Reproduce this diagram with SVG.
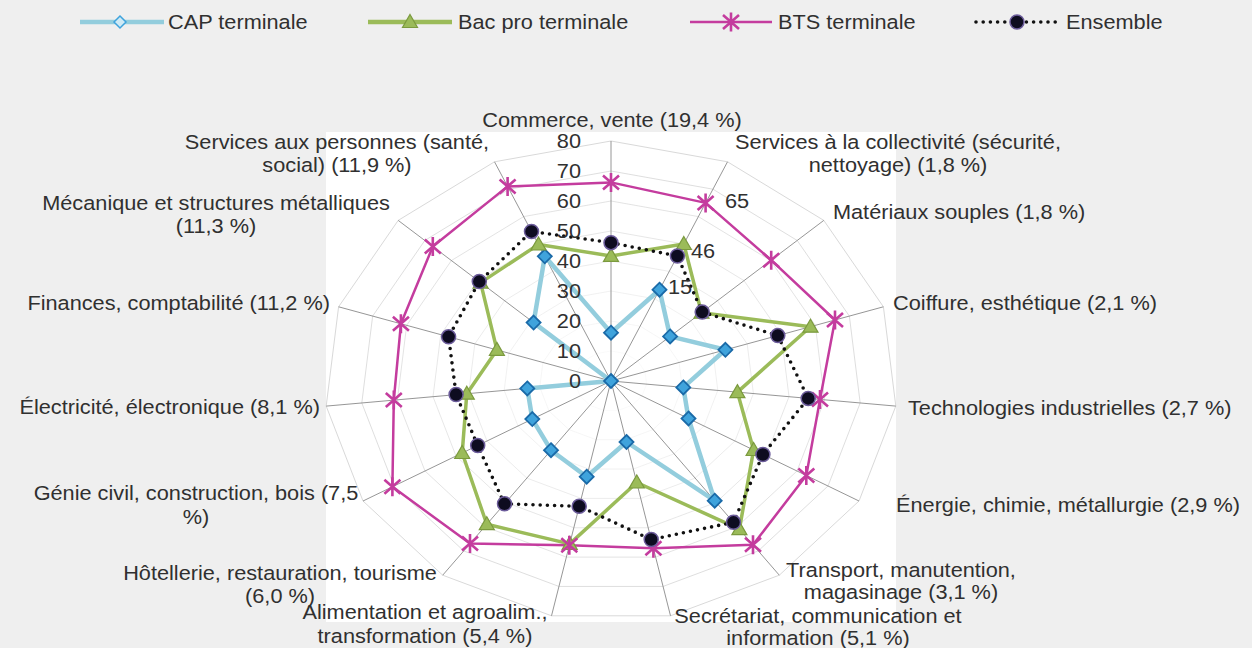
<svg xmlns="http://www.w3.org/2000/svg" xmlns:xlink="http://www.w3.org/1999/xlink" width="1252" height="648" viewBox="0 0 1252 648">
<style>
.t{font-family:"Liberation Sans",Arial,sans-serif;font-size:20.5px;fill:#303030}
.m{text-anchor:middle}.e{text-anchor:end}
.ring{fill:none;stroke:#d9d9d9;stroke-width:1;vector-effect:non-scaling-stroke}
.spoke{stroke:#8a8a8a;stroke-width:0.9}
.cap{fill:none;stroke:#93cddd;stroke-width:4.5;stroke-linejoin:round}
.bac{fill:none;stroke:#9bbb59;stroke-width:3.5;stroke-linejoin:round}
.bts{fill:none;stroke:#c43c9e;stroke-width:2.5;stroke-linejoin:round}
.ens{fill:none;stroke:#111;stroke-width:3.6;stroke-linecap:round;stroke-dasharray:0 7.2}
</style>
<defs>
<polygon id="ringShape" points="0,-240 116.5,-219.2 212.8,-160.6 272.4,-74.2 284.8,25.1 248,120 168.3,194.2 59.5,234.8 -59.5,234.8 -168.3,194.2 -248,120 -284.8,25.1 -272.4,-74.2 -212.8,-160.6 -116.5,-219.2"/>
<g id="mDia"><polygon points="0,-7 7,0 0,7 -7,0" fill="#3fa3dc" stroke="#1a6aa8" stroke-width="1.8"/></g>
<g id="mTri"><polygon points="0,-7.5 7.5,5.5 -7.5,5.5" fill="#9bbb59" stroke="#7b9a3e" stroke-width="1.2"/></g>
<g id="mAst"><path d="M-8,-7L8,7M-8,7L8,-7M0,-9.5V9.5" stroke="#c43c9e" stroke-width="2.6" fill="none"/></g>
<g id="mCir"><circle r="7" fill="#0e0c20" stroke="#6b5b9a" stroke-width="1.5"/></g>
</defs>
<rect x="0" y="0" width="1252" height="648" fill="#efefef"/>
<rect x="326" y="132" width="570" height="490" fill="#ffffff"/>

<g id="grid">
<g transform="translate(611 381)">
<use xlink:href="#ringShape" class="ring" transform="scale(0.125)"/>
<use xlink:href="#ringShape" class="ring" transform="scale(0.25)"/>
<use xlink:href="#ringShape" class="ring" transform="scale(0.375)"/>
<use xlink:href="#ringShape" class="ring" transform="scale(0.5)"/>
<use xlink:href="#ringShape" class="ring" transform="scale(0.625)"/>
<use xlink:href="#ringShape" class="ring" transform="scale(0.75)"/>
<use xlink:href="#ringShape" class="ring" transform="scale(0.875)"/>
<use xlink:href="#ringShape" class="ring"/>
</g>
<g class="spoke">
<line x1="611" y1="381" x2="611" y2="141"/>
<line x1="611" y1="381" x2="727.5" y2="161.8"/>
<line x1="611" y1="381" x2="823.8" y2="220.4"/>
<line x1="611" y1="381" x2="883.4" y2="306.8"/>
<line x1="611" y1="381" x2="895.8" y2="406.1"/>
<line x1="611" y1="381" x2="859" y2="501"/>
<line x1="611" y1="381" x2="779.3" y2="575.2"/>
<line x1="611" y1="381" x2="670.5" y2="615.8"/>
<line x1="611" y1="381" x2="551.5" y2="615.8"/>
<line x1="611" y1="381" x2="442.7" y2="575.2"/>
<line x1="611" y1="381" x2="363" y2="501"/>
<line x1="611" y1="381" x2="326.2" y2="406.1"/>
<line x1="611" y1="381" x2="338.6" y2="306.8"/>
<line x1="611" y1="381" x2="398.2" y2="220.4"/>
<line x1="611" y1="381" x2="494.5" y2="161.8"/>
</g>
</g>

<g id="connectors">
<polygon id="line-cap" class="cap" points="611,332.7 659.5,289.7 670.1,336.4 725.4,349.8 683.3,387.4 688.5,418.5 714.7,500.7 626.5,442 586.7,476.7 551,450.2 532.3,419.1 527.3,388.4 611,381 533.6,322.6 544.8,256.3"/>
<polygon id="line-bac" class="bac" points="611,255.9 683.8,244 701.5,312.7 810.5,326.7 737.4,392.1 753.6,450 739.4,529.1 636.8,482.5 569.7,543.9 486.8,524.2 462.2,453 466.8,393.7 496.9,349.9 480.6,282.6 538.5,244.5"/>
<polygon id="line-bts" class="bts" points="611,182.4 705.6,202.9 771.2,260.2 835,320 820,399.4 806.3,475.5 753,544.8 653.4,548.3 569.3,545.3 470,543.6 392.4,486.8 393.8,400.1 400.9,323.8 432.8,246.5 507.6,186.4"/>
<polygon id="line-ens" class="ens" points="611,242.7 677.4,256 702.2,312.1 777.8,335.6 808.2,398.4 762.9,454.5 733.5,522.3 651.2,539.5 579.2,506.3 504.5,503.8 477.7,445.5 456.1,394.6 448.6,336.8 479.3,281.6 531.5,231.4"/>
</g>

<g id="markers-cap">
<use xlink:href="#mDia" x="611" y="332.7"/><use xlink:href="#mDia" x="659.5" y="289.7"/><use xlink:href="#mDia" x="670.1" y="336.4"/><use xlink:href="#mDia" x="725.4" y="349.8"/><use xlink:href="#mDia" x="683.3" y="387.4"/><use xlink:href="#mDia" x="688.5" y="418.5"/><use xlink:href="#mDia" x="714.7" y="500.7"/><use xlink:href="#mDia" x="626.5" y="442"/><use xlink:href="#mDia" x="586.7" y="476.7"/><use xlink:href="#mDia" x="551" y="450.2"/><use xlink:href="#mDia" x="532.3" y="419.1"/><use xlink:href="#mDia" x="527.3" y="388.4"/><use xlink:href="#mDia" x="611" y="381"/><use xlink:href="#mDia" x="533.6" y="322.6"/><use xlink:href="#mDia" x="544.8" y="256.3"/>
</g>
<g id="markers-bac">
<use xlink:href="#mTri" x="611" y="255.9"/><use xlink:href="#mTri" x="683.8" y="244"/><use xlink:href="#mTri" x="701.5" y="312.7"/><use xlink:href="#mTri" x="810.5" y="326.7"/><use xlink:href="#mTri" x="737.4" y="392.1"/><use xlink:href="#mTri" x="753.6" y="450"/><use xlink:href="#mTri" x="739.4" y="529.1"/><use xlink:href="#mTri" x="636.8" y="482.5"/><use xlink:href="#mTri" x="569.7" y="543.9"/><use xlink:href="#mTri" x="486.8" y="524.2"/><use xlink:href="#mTri" x="462.2" y="453"/><use xlink:href="#mTri" x="466.8" y="393.7"/><use xlink:href="#mTri" x="496.9" y="349.9"/><use xlink:href="#mTri" x="480.6" y="282.6"/><use xlink:href="#mTri" x="538.5" y="244.5"/>
</g>
<g id="markers-bts">
<use xlink:href="#mAst" x="611" y="182.4"/><use xlink:href="#mAst" x="705.6" y="202.9"/><use xlink:href="#mAst" x="771.2" y="260.2"/><use xlink:href="#mAst" x="835" y="320"/><use xlink:href="#mAst" x="820" y="399.4"/><use xlink:href="#mAst" x="806.3" y="475.5"/><use xlink:href="#mAst" x="753" y="544.8"/><use xlink:href="#mAst" x="653.4" y="548.3"/><use xlink:href="#mAst" x="569.3" y="545.3"/><use xlink:href="#mAst" x="470" y="543.6"/><use xlink:href="#mAst" x="392.4" y="486.8"/><use xlink:href="#mAst" x="393.8" y="400.1"/><use xlink:href="#mAst" x="400.9" y="323.8"/><use xlink:href="#mAst" x="432.8" y="246.5"/><use xlink:href="#mAst" x="507.6" y="186.4"/>
</g>
<g id="markers-ens">
<use xlink:href="#mCir" x="611" y="242.7"/><use xlink:href="#mCir" x="677.4" y="256"/><use xlink:href="#mCir" x="702.2" y="312.1"/><use xlink:href="#mCir" x="777.8" y="335.6"/><use xlink:href="#mCir" x="808.2" y="398.4"/><use xlink:href="#mCir" x="762.9" y="454.5"/><use xlink:href="#mCir" x="733.5" y="522.3"/><use xlink:href="#mCir" x="651.2" y="539.5"/><use xlink:href="#mCir" x="579.2" y="506.3"/><use xlink:href="#mCir" x="504.5" y="503.8"/><use xlink:href="#mCir" x="477.7" y="445.5"/><use xlink:href="#mCir" x="456.1" y="394.6"/><use xlink:href="#mCir" x="448.6" y="336.8"/><use xlink:href="#mCir" x="479.3" y="281.6"/><use xlink:href="#mCir" x="531.5" y="231.4"/>
</g>

<g id="legend">
<line x1="80" y1="22" x2="164" y2="22" stroke="#93cddd" stroke-width="4.5"/>
<polygon points="120,16 126,22 120,28 114,22" fill="#cfeaf5" stroke="#3fa3dc" stroke-width="1.5"/>
<line x1="368" y1="22" x2="452" y2="22" stroke="#9bbb59" stroke-width="4.5"/>
<use xlink:href="#mTri" x="410" y="22"/>
<line x1="690" y1="22" x2="772" y2="22" stroke="#c43c9e" stroke-width="2.5"/>
<use xlink:href="#mAst" x="731" y="22"/>
<line x1="976" y1="22" x2="1060" y2="22" class="ens"/>
<use xlink:href="#mCir" x="1017" y="22"/>
</g>

<g id="texts" class="t" transform="scale(1.06 1)">
<text x="158.5" y="29">CAP terminale</text>
<text x="432.1" y="29">Bac pro terminale</text>
<text x="734" y="29">BTS terminale</text>
<text x="1005.7" y="29">Ensemble</text>

<g id="axis-labels">
<text class="m" x="577.4" y="127">Commerce, vente (19,4 %)</text>
<text class="m" x="847.2" y="149">Services à la collectivité (sécurité,</text>
<text class="m" x="847.2" y="172">nettoyage) (1,8 %)</text>
<text x="785.8" y="219">Matériaux souples (1,8 %)</text>
<text x="842.5" y="310">Coiffure, esthétique (2,1 %)</text>
<text x="856.6" y="415">Technologies industrielles (2,7 %)</text>
<text x="845.3" y="512">Énergie, chimie, métallurgie (2,9 %)</text>
<text class="m" x="850" y="577">Transport, manutention,</text>
<text class="m" x="850" y="599">magasinage (3,1 %)</text>
<text class="m" x="771.7" y="623">Secrétariat, communication et</text>
<text class="m" x="771.7" y="645">information (5,1 %)</text>
<text class="m" x="400.9" y="619">Alimentation et agroalim.,</text>
<text class="m" x="400.9" y="643">transformation (5,4 %)</text>
<text class="m" x="264.2" y="580">Hôtellerie, restauration, tourisme</text>
<text class="m" x="264.2" y="603">(6,0 %)</text>
<text class="m" x="184.9" y="500">Génie civil, construction, bois (7,5</text>
<text class="m" x="184.9" y="524">%)</text>
<text class="e" x="301.9" y="414">Électricité, électronique (8,1 %)</text>
<text class="e" x="311.3" y="310">Finances, comptabilité (11,2 %)</text>
<text class="m" x="203.8" y="210">Mécanique et structures métalliques</text>
<text class="m" x="203.8" y="233">(11,3 %)</text>
<text class="m" x="317.9" y="149">Services aux personnes (santé,</text>
<text class="m" x="317.9" y="172">social) (11,9 %)</text>
</g>

<g id="ticks" class="e">
<text x="548.1" y="388.3">0</text>
<text x="548.1" y="358.3">10</text>
<text x="548.1" y="328.3">20</text>
<text x="548.1" y="298.3">30</text>
<text x="548.1" y="268.3">40</text>
<text x="548.1" y="238.3">50</text>
<text x="548.1" y="208.3">60</text>
<text x="548.1" y="178.3">70</text>
<text x="548.1" y="148.3">80</text>
</g>

<g id="data-labels">
<text x="684" y="208">65</text>
<text x="651.9" y="258">46</text>
<text x="630.2" y="294">15</text>
</g>
</g>
</svg>
